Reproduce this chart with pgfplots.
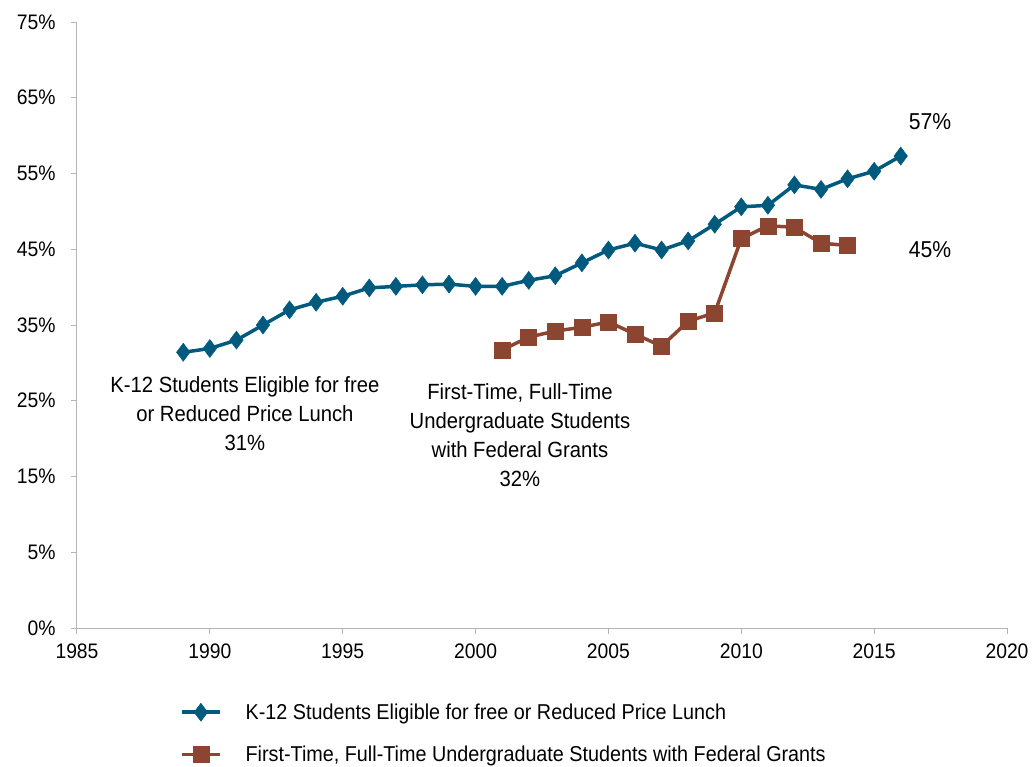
\documentclass[border=0pt]{standalone}
\usepackage{pgfplots}
\pgfplotsset{compat=1.18}
\usepackage{fontspec}
\setmainfont{Liberation Sans}
\newfontfamily\cond[FakeStretch=0.92]{Liberation Sans}
\definecolor{kblue}{HTML}{005A7E}
\definecolor{ubrown}{HTML}{8B4530}
\definecolor{axgray}{HTML}{B4B4B4}
\begin{document}
\begin{tikzpicture}
\begin{axis}[
  scale only axis, width=930bp, height=606bp,
  xmin=1985, xmax=2020, ymin=-5, ymax=75,
  axis x line*=bottom, axis y line*=left,
  axis line style={axgray, line width=1bp},
  xtick={1985,1990,...,2020}, ytick={-5,5,...,75},
  yticklabels={0\%,5\%,15\%,25\%,35\%,45\%,55\%,65\%,75\%},
  /pgf/number format/assume math mode=true,
  tick label style={font=\cond\fontsize{21bp}{25bp}\selectfont},
  x tick label style={/pgf/number format/1000 sep={}, yshift=-6bp},
  y tick label style={xshift=-12bp},
  tick style={axgray, line width=1bp}, tick align=outside, major tick length=6bp,
  clip=false,
  legend cell align=left,
  legend style={draw=none, fill=none, at={(rel axis cs:0.1075,-0.118)}, anchor=north west,
    font=\cond\fontsize{21.5bp}{25bp}\selectfont, row sep=21bp,
    /tikz/every odd column/.append style={column sep=22bp}},
  legend image code/.code={\draw[mark repeat=2,mark phase=2] plot coordinates {(0bp,0bp) (19bp,0bp) (38bp,0bp)};},
]
\addplot[kblue, line width=3.5bp, mark=diamond*, mark size=9bp, mark options={solid, fill=kblue, draw=kblue, line width=0.5bp}] coordinates {
(1989,31.4) (1990,31.9) (1991,33.0) (1992,35.0) (1993,37.0) (1994,38.0) (1995,38.8)
(1996,39.9) (1997,40.1) (1998,40.3) (1999,40.4) (2000,40.1) (2001,40.1) (2002,40.9)
(2003,41.5) (2004,43.2) (2005,44.9) (2006,45.8) (2007,44.9) (2008,46.1) (2009,48.3)
(2010,50.6) (2011,50.8) (2012,53.5) (2013,52.9) (2014,54.3) (2015,55.3) (2016,57.3)};
\addlegendentry{K-12 Students Eligible for free or Reduced Price Lunch}
\addplot[ubrown, line width=3.5bp, mark=square*, mark size=8bp, mark options={solid, fill=ubrown, draw=ubrown, line width=0.5bp}] coordinates {
(2001,31.7) (2002,33.4) (2003,34.2) (2004,34.7) (2005,35.4) (2006,33.8) (2007,32.2)
(2008,35.5) (2009,36.6) (2010,46.4) (2011,48.1) (2012,47.9) (2013,45.8) (2014,45.5)};
\addlegendentry{First-Time, Full-Time Undergraduate Students with Federal Grants}
\node[align=center, font=\cond\fontsize{22bp}{29bp}\selectfont] at (axis cs:1991.32,23.3) {K-12 Students Eligible for free\\or Reduced Price Lunch\\31\%};
\node[align=center, font=\cond\fontsize{22bp}{29bp}\selectfont] at (axis cs:2001.67,20.5) {First-Time, Full-Time\\Undergraduate Students\\with Federal Grants\\32\%};
\node[font=\cond\fontsize{23bp}{26bp}\selectfont] at (axis cs:2017.1,61.9) {57\%};
\node[font=\cond\fontsize{23bp}{26bp}\selectfont] at (axis cs:2017.1,44.9) {45\%};
\coordinate (bl) at (rel axis cs:0,0);
\end{axis}
\pgfresetboundingbox
\path[use as bounding box] ([shift={(-77bp,-139bp)}]bl) rectangle ([shift={(956bp,628bp)}]bl);
\end{tikzpicture}
\end{document}
